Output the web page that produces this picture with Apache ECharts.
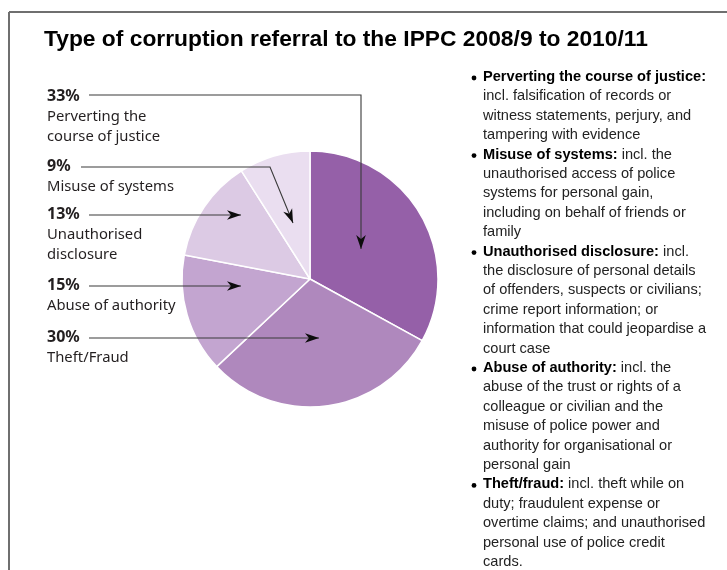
<!DOCTYPE html>
<html>
<head>
<meta charset="utf-8">
<script src="https://cdn.jsdelivr.net/npm/echarts@6/dist/echarts.min.js"></script>
<style>html,body{margin:0;padding:0;background:#fff}#c{width:727px;height:570px}</style>
</head>
<body>
<div id="c"></div>
<script>
// ---- data ----
const categories = ['Perverting the course of justice', 'Theft/Fraud', 'Abuse of authority', 'Unauthorised disclosure', 'Misuse of systems'];
const values = [33, 30, 15, 13, 9];
const sliceColors = ['#9560a8', '#af88bd', '#c3a5d0', '#dccae4', '#eadef0'];
// left-hand labels (top to bottom)
const labelPct = ['33%', '9%', '13%', '15%', '30%'];
const labelNames = [['Perverting the', 'course of justice'], ['Misuse of systems'], ['Unauthorised', 'disclosure'], ['Abuse of authority'], ['Theft/Fraud']];
// right-hand descriptions
const descHeads = ['Perverting the course of justice:', 'Misuse of systems:', 'Unauthorised disclosure:', 'Abuse of authority:', 'Theft/fraud:'];
const descFirstRest = ['', ' incl. the', ' incl.', ' incl. the', ' incl. theft while on'];
const descLines = [
  ['incl. falsification of records or', 'witness statements, perjury, and', 'tampering with evidence'],
  ['unauthorised access of police', 'systems for personal gain,', 'including on behalf of friends or', 'family'],
  ['the disclosure of personal details', 'of offenders, suspects or civilians;', 'crime report information; or', 'information that could jeopardise a', 'court case'],
  ['abuse of the trust or rights of a', 'colleague or civilian and the', 'misuse of police power and', 'authority for organisational or', 'personal gain'],
  ['duty; fraudulent expense or', 'overtime claims; and unauthorised', 'personal use of police credit', 'cards.']
];
const titleText = 'Type of corruption referral to the IPPC 2008/9 to 2010/11';

// ---- build ----
const chart = echarts.init(document.getElementById('c'), null, {renderer: 'canvas'});
const graphics = [];
// frame
graphics.push({type: 'line', shape: {x1: 9, y1: 12, x2: 727, y2: 12}, style: {stroke: '#6f6f6f', lineWidth: 2}});
graphics.push({type: 'line', shape: {x1: 9, y1: 12, x2: 9, y2: 570}, style: {stroke: '#6f6f6f', lineWidth: 2}});
// title
graphics.push({type: 'text', x: 44, y: 40, style: {text: titleText, font: 'bold 22.8px "Liberation Sans", Arial, sans-serif', fill: '#000', textVerticalAlign: 'middle'}});

// left labels
const labelFont = '"Noto Sans", "Open Sans", sans-serif';
const pctY = [96, 166, 214, 285, 337];
labelPct.forEach((p, i) => {
  graphics.push({type: 'text', x: 47, y: pctY[i], style: {text: p, font: 'bold 16px ' + labelFont, fill: '#231f20', textVerticalAlign: 'middle'}});
  labelNames[i].forEach((n, j) => {
    graphics.push({type: 'text', x: 47, y: pctY[i] + 21 + j * 19.5, style: {text: n, font: '14.8px ' + labelFont, fill: '#231f20', textVerticalAlign: 'middle'}});
  });
});

// connector lines and arrowheads
function arrowHead(tx, ty, fx, fy) {
  const ang = Math.atan2(ty - fy, tx - fx);
  const L = 14, W = 4.8;
  const bx = tx - L * Math.cos(ang), by = ty - L * Math.sin(ang);
  const nx = -Math.sin(ang) * W, ny = Math.cos(ang) * W;
  const mx = tx - L * 0.72 * Math.cos(ang), my = ty - L * 0.72 * Math.sin(ang);
  return {type: 'polygon', z: 200, shape: {points: [[tx, ty], [bx + nx, by + ny], [mx, my], [bx - nx, by - ny]]}, style: {fill: '#0d0d0d'}};
}
const connectors = [
  [[89, 95], [361, 95], [361, 249]],
  [[81, 167], [270, 167], [293, 223]],
  [[89, 215], [241, 215]],
  [[89, 286], [241, 286]],
  [[89, 338], [319, 338]]
];
connectors.forEach(pts => {
  graphics.push({type: 'polyline', z: 200, shape: {points: pts}, style: {stroke: '#3a3a3a', lineWidth: 1.1, fill: null}});
  const n = pts.length;
  graphics.push(arrowHead(pts[n - 1][0], pts[n - 1][1], pts[n - 2][0], pts[n - 2][1]));
});

// right description list
const descFont = '"Liberation Sans", Arial, sans-serif';
let row = 0;
const y0 = 77, lh = 19.4;
descHeads.forEach((h, i) => {
  const y = y0 + row * lh;
  graphics.push({type: 'circle', shape: {cx: 474, cy: y + 1, r: 2.4}, style: {fill: '#000'}});
  graphics.push({type: 'text', x: 483, y: y, style: {
    text: '{b|' + h + '}{n|' + descFirstRest[i] + '}', textVerticalAlign: 'middle',
    rich: {b: {font: 'bold 14.6px ' + descFont, fill: '#000'}, n: {font: '14.6px ' + descFont, fill: '#222'}}
  }});
  row++;
  descLines[i].forEach(l => {
    graphics.push({type: 'text', x: 483, y: y0 + row * lh, style: {text: l, font: '14.6px ' + descFont, fill: '#222', textVerticalAlign: 'middle'}});
    row++;
  });
});

chart.setOption({
  backgroundColor: '#fff',
  animation: false,
  series: [{
    type: 'pie',
    center: [310, 279],
    radius: [0, 128],
    startAngle: 90,
    clockwise: true,
    z: 2,
    label: {show: false},
    labelLine: {show: false},
    itemStyle: {borderColor: '#fff', borderWidth: 1.5},
    emphasis: {disabled: true},
    data: categories.map((c, i) => ({name: c, value: values[i], itemStyle: {color: sliceColors[i]}}))
  }],
  graphic: graphics
});
</script>
</body>
</html>
